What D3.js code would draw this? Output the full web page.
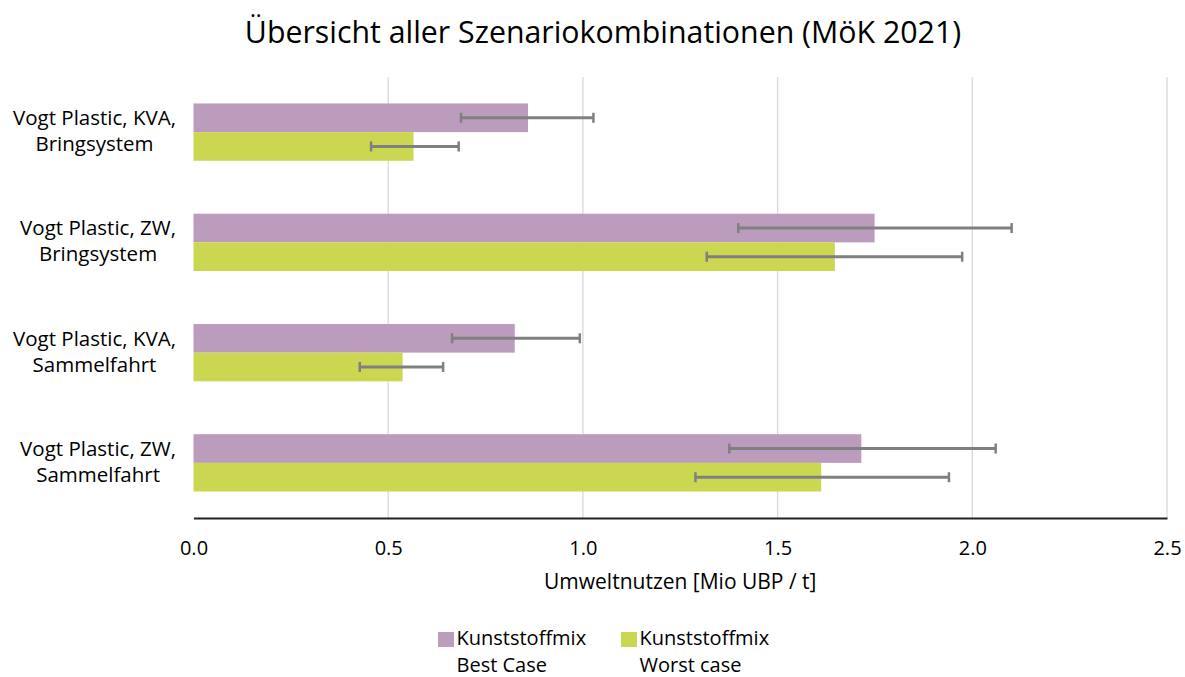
<!DOCTYPE html>
<html><head><meta charset="utf-8">
<script src="https://cdn.jsdelivr.net/npm/d3@7"></script>
<style>body{margin:0;background:#fff}svg{display:block}text{font-family:"Open Sans",sans-serif;fill:#000}</style>
</head><body><svg id="c" width="1185" height="677"></svg>
<script>
const categories = [
  ["Vogt Plastic, KVA,", "Bringsystem"],
  ["Vogt Plastic, ZW,", "Bringsystem"],
  ["Vogt Plastic, KVA,", "Sammelfahrt"],
  ["Vogt Plastic, ZW,", "Sammelfahrt"]
];
const seriesNames = [["Kunststoffmix", "Best Case"], ["Kunststoffmix", "Worst case"]];
const seriesColors = ["#bb9cbd", "#cbd751"];
const bestValues = [0.859, 1.749, 0.825, 1.715];
const bestLow = [0.687, 1.399, 0.664, 1.376];
const bestHigh = [1.027, 2.101, 0.992, 2.060];
const worstValues = [0.565, 1.647, 0.537, 1.612];
const worstLow = [0.456, 1.318, 0.427, 1.289];
const worstHigh = [0.681, 1.974, 0.641, 1.940];
const xTicks = [0, 0.5, 1.0, 1.5, 2.0, 2.5];

const series = [
  {vals: bestValues, lo: bestLow, hi: bestHigh},
  {vals: worstValues, lo: worstLow, hi: worstHigh}
];

const svg = d3.select("#c");
const m = {left: 193.5, right: 1167, top: 77, bottom: 518};
const x = d3.scaleLinear().domain([0, 2.5]).range([m.left, m.right]);
const y = d3.scaleBand().domain(d3.range(categories.length)).range([m.top, m.bottom]).paddingInner(0.48).paddingOuter(0.24);
const ys = d3.scaleBand().domain([0, 1]).range([0, y.bandwidth()]).padding(0);

// title
svg.append("text").attr("x", 603).attr("y", 43).attr("text-anchor", "middle")
  .style("font-size", "30.3px").text("Übersicht aller Szenariokombinationen (MöK 2021)");

// gridlines
svg.append("g").selectAll("line").data(xTicks.slice(1)).join("line")
  .attr("x1", d => x(d)).attr("x2", d => x(d)).attr("y1", m.top).attr("y2", m.bottom)
  .attr("stroke", "#d9d9d9").attr("stroke-width", 1.3);

// bars
const g = svg.append("g").selectAll("g").data(categories).join("g")
  .attr("transform", (d, i) => `translate(0,${y(i)})`);
series.forEach((s, si) => {
  g.append("rect").attr("x", x(0)).attr("y", ys(si))
    .attr("width", (d, i) => x(s.vals[i]) - x(0)).attr("height", ys.bandwidth())
    .attr("fill", seriesColors[si]);
});
// error bars
series.forEach((s, si) => {
  const cy = ys(si) + ys.bandwidth() / 2;
  g.append("line").attr("x1", (d, i) => x(s.lo[i])).attr("x2", (d, i) => x(s.hi[i]))
    .attr("y1", cy).attr("y2", cy).attr("stroke", "#808080").attr("stroke-width", 3);
  ["lo", "hi"].forEach(k => {
    g.append("line").attr("x1", (d, i) => x(s[k][i])).attr("x2", (d, i) => x(s[k][i]))
      .attr("y1", cy - 5).attr("y2", cy + 5).attr("stroke", "#808080").attr("stroke-width", 2.5);
  });
});

// category labels
g.each(function(d) {
  const t = d3.select(this).append("text").attr("text-anchor", "middle").style("font-size", "20.5px");
  const sp1 = t.append("tspan").text(d[0]);
  const w = sp1.node().getComputedTextLength();
  const sp2 = t.append("tspan").text(d[1]);
  const w2 = sp2.node().getComputedTextLength();
  const cx = 176 - Math.max(w, w2) / 2;
  const cy = y.bandwidth() / 2;
  sp1.attr("x", cx).attr("y", cy - 7);
  sp2.attr("x", cx).attr("y", cy + 19);
});

// x axis
const xa = svg.append("g").attr("transform", `translate(0,${m.bottom})`)
  .call(d3.axisBottom(x).tickValues(xTicks).tickFormat(d3.format(".1f")).tickSize(0).tickPadding(23));
xa.select(".domain").attr("stroke", "#222").attr("stroke-width", 2.2);
xa.selectAll("text").style("font-size", "20px").style("font-family", "'Open Sans', sans-serif").attr("fill", "#000");

svg.append("text").attr("x", (m.left + m.right) / 2).attr("y", 589).attr("text-anchor", "middle")
  .style("font-size", "21px").text("Umweltnutzen [Mio UBP / t]");

// legend
const legX = [438, 621];
const leg = svg.append("g").selectAll("g").data(seriesNames).join("g")
  .attr("transform", (d, i) => `translate(${legX[i]},0)`);
leg.append("rect").attr("x", 0).attr("y", 632).attr("width", 16).attr("height", 15)
  .attr("fill", (d, i) => seriesColors[i]);
const lt = leg.append("text").style("font-size", "20px");
lt.append("tspan").attr("x", 18.5).attr("y", 645).text(d => d[0]);
lt.append("tspan").attr("x", 18.5).attr("y", 672).text(d => d[1]);
</script></body></html>
